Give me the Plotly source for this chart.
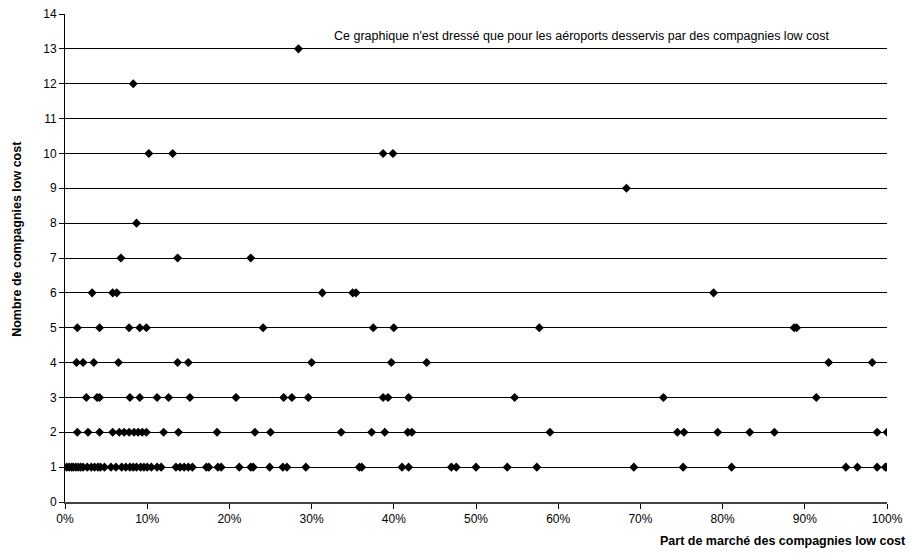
import plotly.graph_objects as go

# Part de marché (%) des compagnies low cost, grouped by number of low-cost companies
share_n1 = [0.2, 0.5, 0.8, 1.0, 1.3, 1.6, 1.9, 2.2, 2.7, 3.2, 3.6, 4.0, 4.3, 4.8, 5.6, 6.2,
            6.9, 7.4, 7.9, 8.3, 8.7, 9.2, 9.6, 10.0, 10.5, 11.2, 11.7, 13.5, 14.0, 14.5,
            15.0, 15.5, 17.2, 17.5, 18.6, 19.0, 21.2, 22.6, 22.9, 24.9, 26.5, 27.0, 29.3,
            35.8, 36.1, 41.0, 41.8, 47.0, 47.6, 50.0, 53.8, 57.4, 69.2, 75.2, 81.1, 95.0,
            96.4, 98.8, 99.8, 100.0]
share_n2 = [1.5, 2.8, 4.2, 5.8, 6.6, 7.2, 7.8, 8.4, 8.9, 9.4, 9.9, 12.0, 13.8, 18.5, 23.1,
            25.0, 33.6, 37.3, 38.9, 41.7, 42.2, 59.0, 74.5, 75.3, 79.4, 83.3, 86.3, 98.8, 100.0]
share_n3 = [2.6, 3.9, 4.2, 7.9, 9.1, 11.2, 12.6, 15.2, 20.8, 26.6, 27.6, 29.6, 38.7, 39.3,
            41.8, 54.7, 72.8, 91.4]
share_n4 = [1.4, 2.2, 3.5, 6.5, 13.7, 15.0, 30.0, 39.7, 44.0, 92.9, 98.2]
share_n5 = [1.5, 4.2, 7.8, 9.1, 9.9, 24.1, 37.5, 40.0, 57.7, 88.7, 89.0]
share_n6 = [3.3, 5.8, 6.3, 31.3, 35.0, 35.4, 78.9]
share_n7 = [6.8, 13.7, 22.6]
share_n8 = [8.7]
share_n9 = [68.3]
share_n10 = [10.2, 13.1, 38.7, 39.9]
share_n12 = [8.3]
share_n13 = [28.4]

groups = {1: share_n1, 2: share_n2, 3: share_n3, 4: share_n4, 5: share_n5, 6: share_n6,
          7: share_n7, 8: share_n8, 9: share_n9, 10: share_n10, 12: share_n12, 13: share_n13}

x_vals = []
y_vals = []
for n, shares in groups.items():
    for s in shares:
        x_vals.append(s / 100.0)
        y_vals.append(n)

x_ticks = [i / 10 for i in range(11)]
x_tick_labels = [f"{i * 10}%" for i in range(11)]
y_ticks = list(range(15))

FONT = "Liberation Sans, Arial, sans-serif"
FS = 12

fig = go.Figure()
fig.add_trace(go.Scatter(
    x=x_vals, y=y_vals, mode="markers",
    marker=dict(symbol="diamond", size=7, color="black", line=dict(width=0)),
    showlegend=False, hoverinfo="x+y",
))

fig.update_layout(
    template="none",
    width=920, height=559,
    margin=dict(l=65, r=33, t=14, b=57, autoexpand=False),
    paper_bgcolor="white", plot_bgcolor="white",
    font=dict(family=FONT, size=FS, color="black"),
    xaxis=dict(
        range=[0, 1], tickvals=x_ticks, ticktext=x_tick_labels, automargin=False,
        showgrid=False, zeroline=False, showline=True, linecolor="#444444", linewidth=1.5,
        ticks="outside", ticklen=5, tickcolor="#000000", tickfont=dict(size=FS),
        fixedrange=True,
    ),
    yaxis=dict(
        range=[0, 14], tickvals=y_ticks, automargin=False,
        showgrid=True, gridcolor="black", gridwidth=1,
        zeroline=False, showline=True, linecolor="black", linewidth=1,
        ticks="outside", ticklen=5, tickcolor="black", tickfont=dict(size=FS),
        fixedrange=True,
    ),
    annotations=[
        dict(text="Ce graphique n'est dressé que pour les aéroports desservis par des compagnies low cost",
             x=0.629, y=13.38, xref="x", yref="y", showarrow=False,
             font=dict(size=12.5, family=FONT), xanchor="center", yanchor="middle"),
        dict(text="<b>Nombre de compagnies low cost</b>", x=-0.058, y=0.54,
             xref="paper", yref="paper", showarrow=False, textangle=-90,
             font=dict(size=12.5, family=FONT), xanchor="center", yanchor="middle"),
        dict(text="<b>Part de marché des compagnies low cost</b>", x=1.025, y=-0.08,
             xref="paper", yref="paper", showarrow=False,
             font=dict(size=12.5, family=FONT), xanchor="right", yanchor="middle"),
    ],
)

fig.write_html("out.html", config={"displayModeBar": False},
               post_script="document.body.style.margin='0';")
